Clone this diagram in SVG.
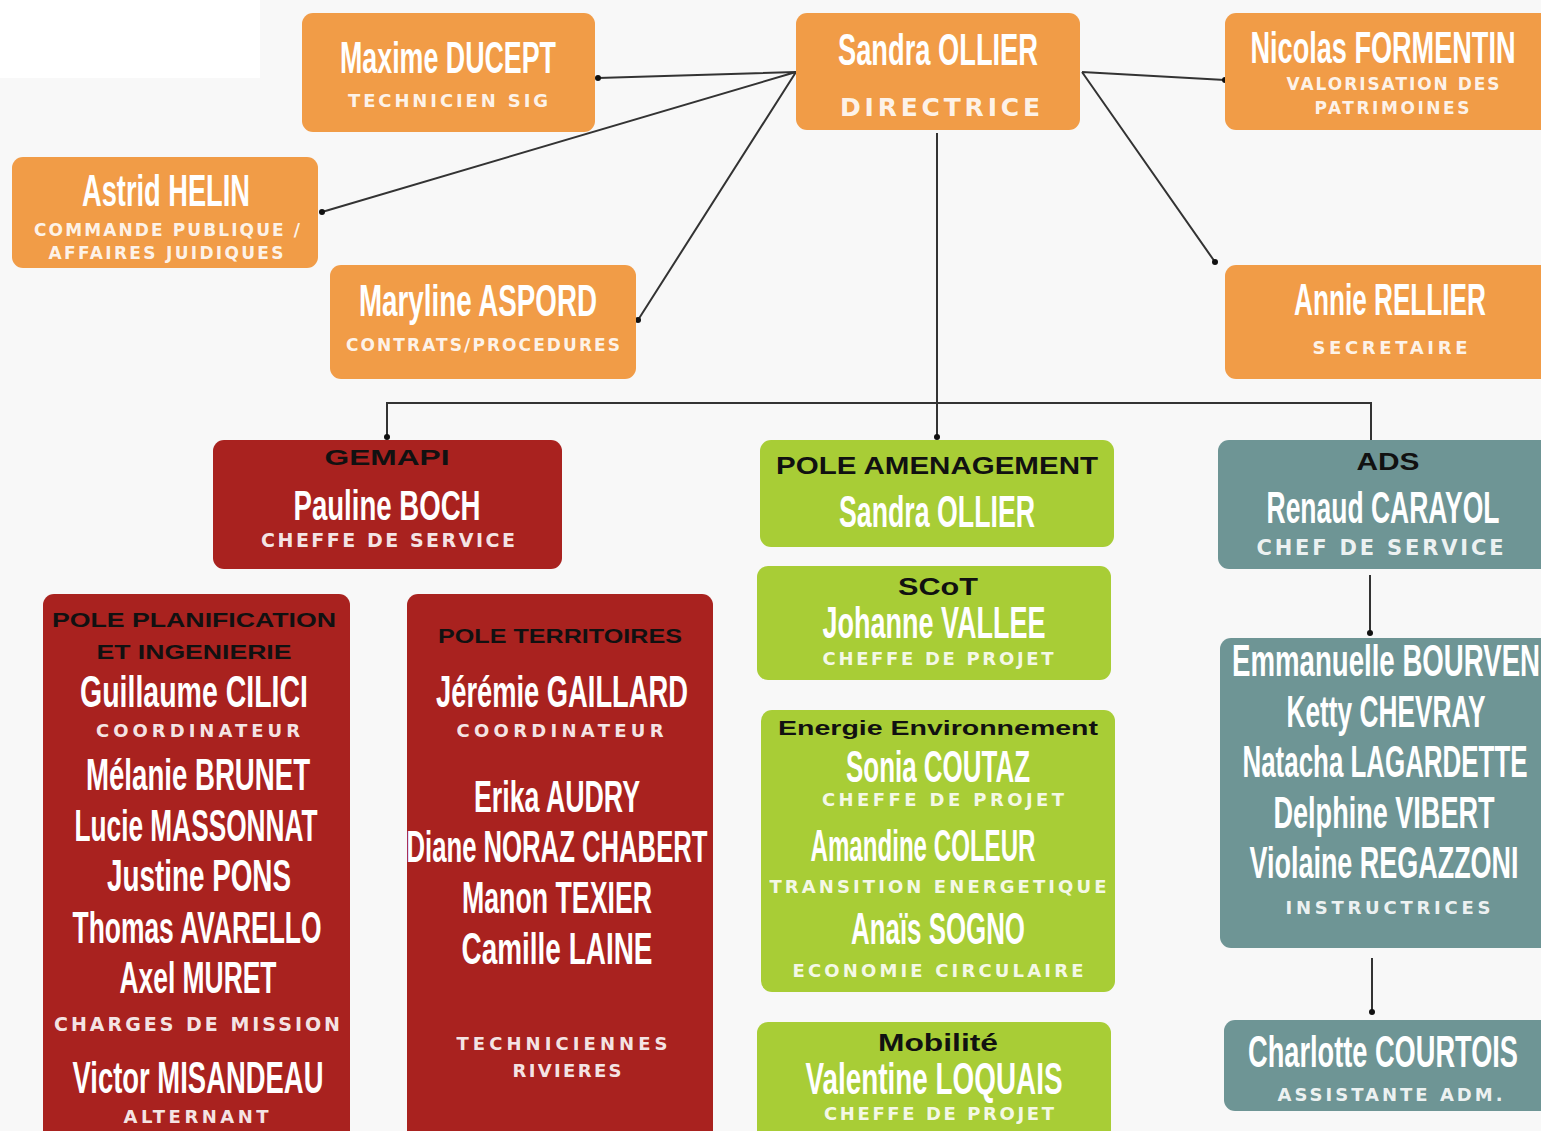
<svg xmlns="http://www.w3.org/2000/svg" width="1541" height="1131" viewBox="0 0 1541 1131">
<style>
.bo{fill:#f19c47}.br{fill:#a9221f}.bg{fill:#a8cd36}.bt{fill:#6e9595}
.n{font-family:"Liberation Sans",Arial,sans-serif;font-weight:700;font-size:44px;fill:#fff;text-anchor:middle}
.s{font-family:"DejaVu Sans","Liberation Sans",sans-serif;font-weight:700;font-size:18px;fill:#fff;fill-opacity:.9;text-anchor:middle}
.h{font-family:"Liberation Sans",Arial,sans-serif;font-weight:700;font-size:22px;fill:#111;text-anchor:middle}
.c{stroke:#333;stroke-width:2;fill:none}
.d{fill:#111}
</style>
<rect width="1541" height="1131" fill="#f8f8f8"/>
<rect width="260" height="78" fill="#fff"/>

<g id="connectors">
<path class="c" d="M796 72 L598 78 M796 72 L322 212 M796 72 L638 320 M1082 72 L1225 80 M1082 72 L1215 262 M937 133 L937 437 M387 437 L387 403 L1371 403 L1371 440 M1370 575 L1370 633 M1372 958 L1372 1012"/>
<circle class="d" cx="598" cy="78" r="3"/><circle class="d" cx="322" cy="212" r="3"/><circle class="d" cx="638" cy="320" r="3"/>
<circle class="d" cx="1225" cy="80" r="3"/><circle class="d" cx="1215" cy="262" r="3"/><circle class="d" cx="937" cy="437" r="3"/>
<circle class="d" cx="387" cy="437" r="3"/><circle class="d" cx="1370" cy="633" r="3"/><circle class="d" cx="1372" cy="1012" r="3"/>
</g>

<g id="maxime">
<rect class="bo" x="302" y="13" width="293" height="119" rx="11"/>
<text class="n" x="448" y="73" textLength="216" lengthAdjust="spacingAndGlyphs">Maxime DUCEPT</text>
<text class="s" x="448" y="107" textLength="200" lengthAdjust="spacing">TECHNICIEN SIG</text>
</g>
<g id="sandra-top">
<rect class="bo" x="796" y="13" width="284" height="117" rx="11"/>
<text class="n" x="938" y="65" textLength="200" lengthAdjust="spacingAndGlyphs">Sandra OLLIER</text>
<text class="s" x="940" y="116" style="font-size:25px" textLength="200" lengthAdjust="spacing">DIRECTRICE</text>
</g>
<g id="nicolas">
<rect class="bo" x="1225" y="13" width="340" height="117" rx="11"/>
<text class="n" x="1383" y="63" textLength="265" lengthAdjust="spacingAndGlyphs">Nicolas FORMENTIN</text>
<text class="s" x="1393" y="90" style="font-size:17px" textLength="213" lengthAdjust="spacing">VALORISATION DES</text>
<text class="s" x="1392" y="114" style="font-size:17px" textLength="155" lengthAdjust="spacing">PATRIMOINES</text>
</g>
<g id="astrid">
<rect class="bo" x="12" y="157" width="306" height="111" rx="11"/>
<text class="n" x="166" y="206" textLength="168" lengthAdjust="spacingAndGlyphs">Astrid HELIN</text>
<text class="s" x="167" y="236" style="font-size:17px" textLength="266" lengthAdjust="spacing">COMMANDE PUBLIQUE /</text>
<text class="s" x="166" y="259" style="font-size:17px" textLength="235" lengthAdjust="spacing">AFFAIRES JUIDIQUES</text>
</g>
<g id="maryline">
<rect class="bo" x="330" y="265" width="306" height="114" rx="11"/>
<text class="n" x="478" y="316" textLength="238" lengthAdjust="spacingAndGlyphs">Maryline ASPORD</text>
<text class="s" x="483" y="351" style="font-size:17px" textLength="274" lengthAdjust="spacing">CONTRATS/PROCEDURES</text>
</g>
<g id="annie">
<rect class="bo" x="1225" y="265" width="340" height="114" rx="11"/>
<text class="n" x="1390" y="315" textLength="192" lengthAdjust="spacingAndGlyphs">Annie RELLIER</text>
<text class="s" x="1390" y="354" textLength="155" lengthAdjust="spacing">SECRETAIRE</text>
</g>

<g id="gemapi">
<rect class="br" x="213" y="440" width="349" height="129" rx="11"/>
<text class="h" x="387" y="465" textLength="125" lengthAdjust="spacingAndGlyphs">GEMAPI</text>
<text class="n" x="387" y="520" style="font-size:42px" textLength="187" lengthAdjust="spacingAndGlyphs">Pauline BOCH</text>
<text class="s" x="388" y="547" style="font-size:19px" textLength="254" lengthAdjust="spacing">CHEFFE DE SERVICE</text>
</g>
<g id="pole-amenagement">
<rect class="bg" x="760" y="440" width="354" height="107" rx="11"/>
<text class="h" x="937" y="474" style="font-size:24px" textLength="322" lengthAdjust="spacingAndGlyphs">POLE AMENAGEMENT</text>
<text class="n" x="937" y="527" textLength="196" lengthAdjust="spacingAndGlyphs">Sandra OLLIER</text>
</g>
<g id="ads">
<rect class="bt" x="1218" y="440" width="350" height="129" rx="11"/>
<text class="h" x="1388" y="470" style="font-size:24px" textLength="63" lengthAdjust="spacingAndGlyphs">ADS</text>
<text class="n" x="1383" y="523" textLength="233" lengthAdjust="spacingAndGlyphs">Renaud CARAYOL</text>
<text class="s" x="1380" y="555" style="font-size:21px" textLength="247" lengthAdjust="spacing">CHEF DE SERVICE</text>
</g>

<g id="scot">
<rect class="bg" x="757" y="566" width="354" height="114" rx="11"/>
<text class="h" x="938" y="595" style="font-size:24px" textLength="80" lengthAdjust="spacingAndGlyphs">SCoT</text>
<text class="n" x="934" y="638" textLength="223" lengthAdjust="spacingAndGlyphs">Johanne VALLEE</text>
<text class="s" x="938" y="665" textLength="231" lengthAdjust="spacing">CHEFFE DE PROJET</text>
</g>
<g id="energie">
<rect class="bg" x="761" y="710" width="354" height="282" rx="11"/>
<text class="h" x="938" y="735" style="font-size:21px" textLength="320" lengthAdjust="spacingAndGlyphs">Energie Environnement</text>
<text class="n" x="938" y="782" textLength="184" lengthAdjust="spacingAndGlyphs">Sonia COUTAZ</text>
<text class="s" x="943" y="806" textLength="242" lengthAdjust="spacing">CHEFFE DE PROJET</text>
<text class="n" x="923" y="861" textLength="225" lengthAdjust="spacingAndGlyphs">Amandine COLEUR</text>
<text class="s" x="938" y="893" textLength="337" lengthAdjust="spacing">TRANSITION ENERGETIQUE</text>
<text class="n" x="938" y="944" textLength="174" lengthAdjust="spacingAndGlyphs">Anaïs SOGNO</text>
<text class="s" x="938" y="977" textLength="291" lengthAdjust="spacing">ECONOMIE CIRCULAIRE</text>
</g>
<g id="mobilite">
<rect class="bg" x="757" y="1022" width="354" height="130" rx="11"/>
<text class="h" x="938" y="1051" style="font-size:23px" textLength="120" lengthAdjust="spacingAndGlyphs">Mobilité</text>
<text class="n" x="934" y="1094" textLength="257" lengthAdjust="spacingAndGlyphs">Valentine LOQUAIS</text>
<text class="s" x="939" y="1120" textLength="230" lengthAdjust="spacing">CHEFFE DE PROJET</text>
</g>

<g id="instructrices">
<rect class="bt" x="1220" y="638" width="345" height="310" rx="11"/>
<text class="n" x="1232" y="676" style="text-anchor:start" textLength="308" lengthAdjust="spacingAndGlyphs">Emmanuelle BOURVEN</text>
<text class="n" x="1386" y="727" textLength="199" lengthAdjust="spacingAndGlyphs">Ketty CHEVRAY</text>
<text class="n" x="1385" y="777" textLength="285" lengthAdjust="spacingAndGlyphs">Natacha LAGARDETTE</text>
<text class="n" x="1384" y="828" textLength="221" lengthAdjust="spacingAndGlyphs">Delphine VIBERT</text>
<text class="n" x="1384" y="878" textLength="269" lengthAdjust="spacingAndGlyphs">Violaine REGAZZONI</text>
<text class="s" x="1388" y="914" textLength="205" lengthAdjust="spacing">INSTRUCTRICES</text>
</g>
<g id="charlotte">
<rect class="bt" x="1224" y="1020" width="345" height="91" rx="11"/>
<text class="n" x="1383" y="1067" textLength="270" lengthAdjust="spacingAndGlyphs">Charlotte COURTOIS</text>
<text class="s" x="1390" y="1101" textLength="225" lengthAdjust="spacing">ASSISTANTE ADM.</text>
</g>

<g id="pole-planification">
<rect class="br" x="43" y="594" width="307" height="560" rx="11"/>
<text class="h" x="194" y="627" style="font-size:21px" textLength="284" lengthAdjust="spacingAndGlyphs">POLE PLANIFICATION</text>
<text class="h" x="194" y="659" style="font-size:21px" textLength="195" lengthAdjust="spacingAndGlyphs">ET INGENIERIE</text>
<text class="n" x="194" y="707" textLength="228" lengthAdjust="spacingAndGlyphs">Guillaume CILICI</text>
<text class="s" x="198" y="737" textLength="204" lengthAdjust="spacing">COORDINATEUR</text>
<text class="n" x="198" y="790" textLength="224" lengthAdjust="spacingAndGlyphs">Mélanie BRUNET</text>
<text class="n" x="196" y="841" textLength="243" lengthAdjust="spacingAndGlyphs">Lucie MASSONNAT</text>
<text class="n" x="199" y="891" textLength="184" lengthAdjust="spacingAndGlyphs">Justine PONS</text>
<text class="n" x="197" y="943" textLength="249" lengthAdjust="spacingAndGlyphs">Thomas AVARELLO</text>
<text class="n" x="198" y="993" textLength="157" lengthAdjust="spacingAndGlyphs">Axel MURET</text>
<text class="s" x="197" y="1031" style="font-size:19px" textLength="286" lengthAdjust="spacing">CHARGES DE MISSION</text>
<text class="n" x="198" y="1093" textLength="251" lengthAdjust="spacingAndGlyphs">Victor MISANDEAU</text>
<text class="s" x="196" y="1123" textLength="145" lengthAdjust="spacing">ALTERNANT</text>
</g>
<g id="pole-territoires">
<rect class="br" x="407" y="594" width="306" height="560" rx="11"/>
<text class="h" x="560" y="643" style="font-size:20px" textLength="244" lengthAdjust="spacingAndGlyphs">POLE TERRITOIRES</text>
<text class="n" x="562" y="707" textLength="252" lengthAdjust="spacingAndGlyphs">Jérémie GAILLARD</text>
<text class="s" x="560" y="737" textLength="207" lengthAdjust="spacing">COORDINATEUR</text>
<text class="n" x="557" y="812" textLength="166" lengthAdjust="spacingAndGlyphs">Erika AUDRY</text>
<text class="n" x="557" y="862" textLength="301" lengthAdjust="spacingAndGlyphs">Diane NORAZ CHABERT</text>
<text class="n" x="557" y="913" textLength="190" lengthAdjust="spacingAndGlyphs">Manon TEXIER</text>
<text class="n" x="557" y="964" textLength="191" lengthAdjust="spacingAndGlyphs">Camille LAINE</text>
<text class="s" x="562" y="1050" textLength="211" lengthAdjust="spacing">TECHNICIENNES</text>
<text class="s" x="567" y="1077" textLength="109" lengthAdjust="spacing">RIVIERES</text>
</g>
</svg>
